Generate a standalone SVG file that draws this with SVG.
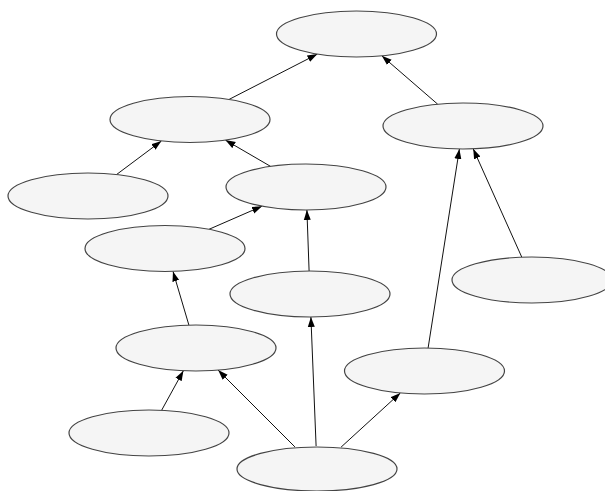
<svg xmlns="http://www.w3.org/2000/svg" width="605" height="491" viewBox="0 0 605 491">
<style>
.n ellipse{fill:#f5f5f5;stroke:#444;stroke-width:1.2}
.e line{stroke:#111;stroke-width:1;marker-end:url(#ah)}
</style>
<defs>
<marker id="ah" markerUnits="userSpaceOnUse" markerWidth="11" markerHeight="8" refX="10" refY="4" orient="auto">
<path d="M0,0.5 L10,4 L0,7.5 z" fill="#000"/>
</marker>
</defs>
<rect width="605" height="491" fill="#fff"/>
<g class="e" id="connectors">
<line x1="229.1" y1="99.4" x2="317.4" y2="54.1"/>
<line x1="437.7" y1="104.2" x2="381.8" y2="55.8"/>
<line x1="116.6" y1="174.5" x2="161.4" y2="141"/>
<line x1="270.6" y1="166.4" x2="225.4" y2="140.1"/>
<line x1="209" y1="229.3" x2="262" y2="206.2"/>
<line x1="309.1" y1="271" x2="306.9" y2="210"/>
<line x1="188.9" y1="325.1" x2="173" y2="271.4"/>
<line x1="428.1" y1="348" x2="459.4" y2="149"/>
<line x1="521.8" y1="257.2" x2="473.2" y2="148.8"/>
<line x1="161.6" y1="410.3" x2="183.4" y2="370.7"/>
<line x1="294.9" y1="446.9" x2="218.1" y2="370.1"/>
<line x1="316.1" y1="446" x2="310.9" y2="317"/>
<line x1="341.1" y1="447.1" x2="400.4" y2="392.9"/>
</g>
<g class="n" id="nA"><ellipse cx="356.5" cy="34" rx="80" ry="23"/></g>
<g class="n" id="nB"><ellipse cx="190" cy="119.5" rx="80" ry="23"/></g>
<g class="n" id="nC"><ellipse cx="463" cy="126" rx="80" ry="23"/></g>
<g class="n" id="nD"><ellipse cx="88" cy="196" rx="80" ry="23"/></g>
<g class="n" id="nE"><ellipse cx="306" cy="187" rx="80" ry="23"/></g>
<g class="n" id="nF"><ellipse cx="165" cy="248.5" rx="80" ry="23"/></g>
<g class="n" id="nG"><ellipse cx="532" cy="280" rx="80" ry="23"/></g>
<g class="n" id="nH"><ellipse cx="310" cy="294" rx="80" ry="23"/></g>
<g class="n" id="nI"><ellipse cx="196" cy="348" rx="80" ry="23"/></g>
<g class="n" id="nJ"><ellipse cx="424.5" cy="371" rx="80" ry="23"/></g>
<g class="n" id="nK"><ellipse cx="149" cy="433" rx="80" ry="23"/></g>
<g class="n" id="nL"><ellipse cx="317" cy="469" rx="80" ry="22"/></g>
</svg>
